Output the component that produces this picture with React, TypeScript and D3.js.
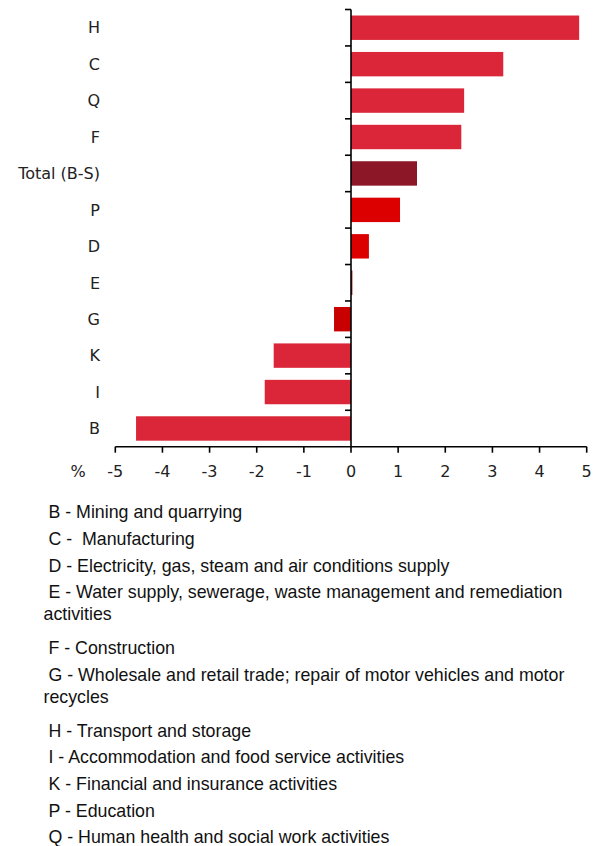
import * as d3 from "d3";

// categories top to bottom, values in %
const categories = ["H", "C", "Q", "F", "Total (B-S)", "P", "D", "E", "G", "K", "I", "B"];
const values = [4.84, 3.23, 2.4, 2.34, 1.4, 1.04, 0.38, 0.03, -0.36, -1.64, -1.83, -4.56];
const barColors = [
  "#da2638", "#da2638", "#da2638", "#da2638", "#8c1726", "#dc0000",
  "#dc0000", "#b01a1a", "#c80000", "#da2638", "#da2638", "#da2638",
];
const xTicks = [-5, -4, -3, -2, -1, 0, 1, 2, 3, 4, 5];
const unitLabel = "%";

const legendItems = [
  " B - Mining and quarrying",
  " C -  Manufacturing",
  " D - Electricity, gas, steam and air conditions supply",
  " E - Water supply, sewerage, waste management and remediation\nactivities",
  " F - Construction",
  " G - Wholesale and retail trade; repair of motor vehicles and motor\nrecycles",
  " H - Transport and storage",
  " I - Accommodation and food service activities",
  " K - Financial and insurance activities",
  " P - Education",
  " Q - Human health and social work activities",
];

const W = 603;
const H = 846;

export default function App() {
  const x = d3.scaleLinear().domain([-5, 5]).range([115.3, 586.7]);
  const y = d3
    .scaleBand<string>()
    .domain(categories)
    .range([9.5, 446.7])
    .paddingInner(0.33)
    .paddingOuter(0.165);
  const step = y.step();
  const axisY = 446.7;
  const x0 = x(0);
  const labelFont = "'DejaVu Sans', Verdana, sans-serif";

  // legend layout
  const legendLines: { text: string; y: number }[] = [];
  let ly = 518.3;
  legendItems.forEach((item, i) => {
    const parts = item.split("\n");
    if (i > 0) {
      const prevWrapped = legendItems[i - 1].includes("\n");
      ly += prevWrapped ? 34 : 26.6;
    }
    parts.forEach((p, j) => {
      if (j > 0) ly += 22;
      legendLines.push({ text: p, y: ly });
    });
  });

  return (
    <svg
      width={W}
      height={H}
      style={{ position: "absolute", left: 0, top: 0, display: "block", background: "#fff" }}
    >
      {/* bars */}
      {categories.map((c, i) => {
        const v = values[i];
        const xa = x(Math.min(0, v));
        const xb = x(Math.max(0, v));
        return (
          <rect
            key={c}
            x={xa}
            y={y(c)!}
            width={Math.max(xb - xa, 1)}
            height={y.bandwidth()}
            fill={barColors[i]}
          />
        );
      })}

      {/* category labels */}
      {categories.map((c) => (
        <text
          key={c}
          x={100}
          y={y(c)! + y.bandwidth() / 2}
          dy="0.36em"
          textAnchor="end"
          fontFamily={labelFont}
          fontSize={16}
          fill="#222"
        >
          {c}
        </text>
      ))}

      {/* y axis line and ticks at band edges */}
      <line x1={x0} x2={x0} y1={9.5} y2={axisY} stroke="#000" strokeWidth={1.6} />
      {categories.map((c, i) => {
        const ty = 9.5 + i * step;
        return <line key={c} x1={x0 - 6} x2={x0} y1={ty} y2={ty} stroke="#000" strokeWidth={1.6} />;
      })}

      {/* x axis */}
      <line x1={x(-5)} x2={x(5)} y1={axisY} y2={axisY} stroke="#000" strokeWidth={1.6} />
      {xTicks.map((t) => (
        <g key={t}>
          <line x1={x(t)} x2={x(t)} y1={axisY} y2={axisY + 6} stroke="#000" strokeWidth={1.6} />
          <text
            x={x(t)}
            y={476.7}
            textAnchor="middle"
            fontFamily={labelFont}
            fontSize={16}
            fill="#222"
          >
            {t}
          </text>
        </g>
      ))}
      <text x={78} y={476.7} textAnchor="middle" fontFamily={labelFont} fontSize={16} fill="#222">
        {unitLabel}
      </text>

      {/* legend */}
      {legendLines.map((l, i) => (
        <text
          key={i}
          x={43.5}
          y={l.y}
          fontFamily="'Liberation Sans', Arial, sans-serif"
          fontSize={17.8}
          fill="#111"
          style={{ whiteSpace: "pre" }}
        >
          {l.text}
        </text>
      ))}
    </svg>
  );
}
